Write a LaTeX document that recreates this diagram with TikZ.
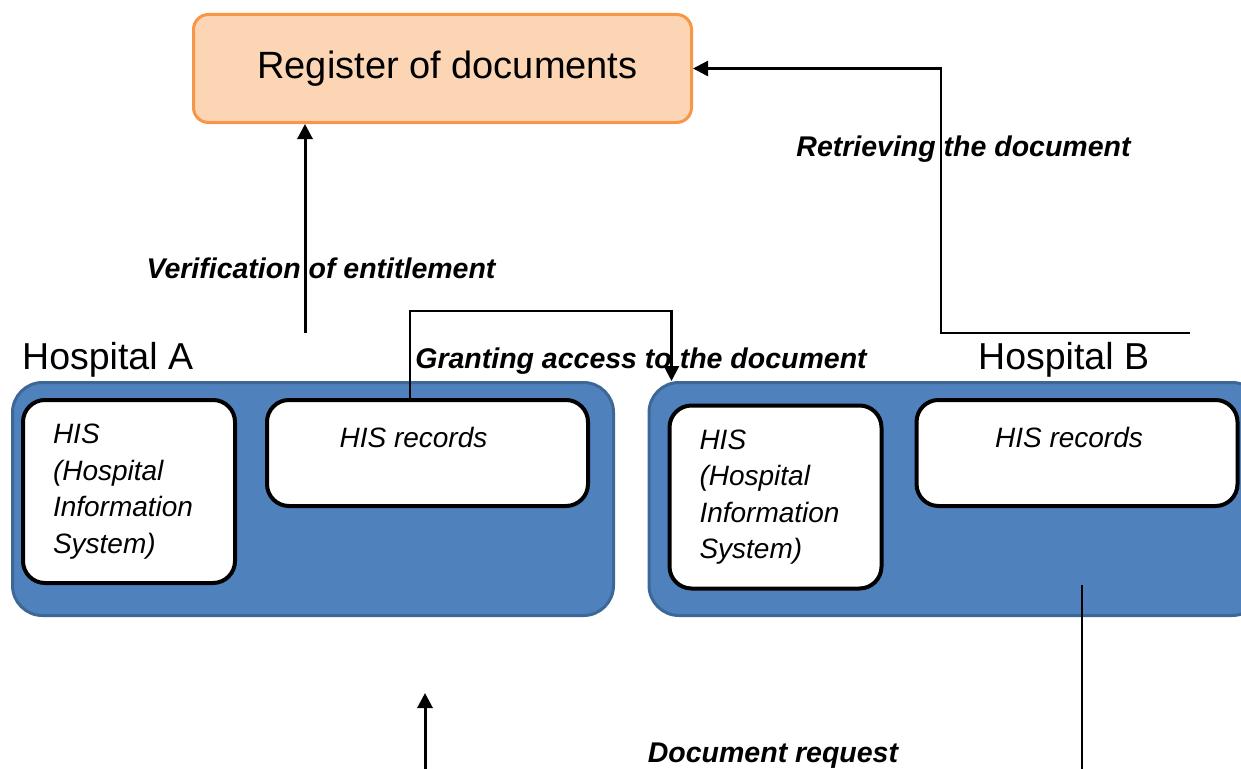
\documentclass[tikz,border=0pt]{standalone}
\usepackage{fontspec}
\setmainfont{Liberation Sans}
\usetikzlibrary{arrows.meta,calc}
\definecolor{hospfill}{HTML}{4F81BD}
\definecolor{hospdraw}{HTML}{3D6796}
\definecolor{regfill}{HTML}{FCD5B4}
\definecolor{regdraw}{HTML}{F79646}
\begin{document}
\begin{tikzpicture}[x=1pt,y=-1pt,
  hosp/.style={draw=hospdraw, fill=hospfill, line width=3pt, rounded corners=30pt,
    minimum width=#1, minimum height=233pt, inner sep=0pt},
  hisbox/.style={draw=black, fill=white, line width=4pt, rounded corners=22pt, inner sep=0pt},
  histext/.style={hisbox, minimum width=212pt, minimum height=183pt, text width=152pt, align=left,
    font=\fontsize{28}{36.5}\selectfont\itshape},
  recbox/.style={hisbox, minimum width=321pt, minimum height=106pt},
  rectext/.style={anchor=base, inner sep=0pt, font=\fontsize{28}{34}\selectfont\itshape},
  regbox/.style={draw=regdraw, fill=regfill, line width=3pt, rounded corners=15pt,
    minimum width=498pt, minimum height=108pt, inner sep=0pt, font=\fontsize{38}{44}\selectfont},
  hosplabel/.style={anchor=base west, inner sep=0pt, font=\fontsize{37.5}{44}\selectfont},
  flowlabel/.style={anchor=base, inner sep=0pt, font=\fontsize{28.5}{34}\selectfont\bfseries\itshape},
  conn/.style={draw=black, line width=2.5pt, -{Triangle[length=15pt,width=15pt]}},
  plain/.style={draw=black, line width=2.5pt}
]
\useasboundingbox (0,0) rectangle (1241,768);
\clip (0,0) rectangle (1241,768);

% register
\node[regbox] (reg) at (442.5,68.5) {\hspace*{10pt}Register of documents};

% hospitals
\node[hosp=601pt] (blueA) at (313,499) {};
\node[hosp=613pt] (blueB) at (955.5,499) {};

\node[hisbox, histext] (hisA) at (129,491.5) {HIS\\(Hospital\\Information\\System)};
\node[recbox] (recA) at (427.5,453) {};
\node[rectext] (recAt) at ($(recA.north)+(-14,49)$) {HIS records};

\node[hisbox, histext] (hisB) at (775.5,497) {HIS\\(Hospital\\Information\\System)};
\node[recbox] (recB) at (1077,453) {};
\node[rectext] (recBt) at ($(recB.north)+(-8,49)$) {HIS records};

\node[hosplabel] (labA) at (22,369) {Hospital A};
\node[hosplabel] (labB) at (978,369) {Hospital B};

% flow labels
\node[flowlabel] (verif) at (321,278) {Verification of entitlement};
\node[flowlabel] (retr) at (963.5,156) {Retrieving the document};
\node[flowlabel] (grant) at (641,368) {Granting access to the document};
\node[flowlabel] (req) at (773,762) {Document request};

% connectors
\coordinate (vStart) at (305,333);
\draw[conn, line width=3pt] (vStart) -- (vStart |- reg.south);

\coordinate (rStart) at (1190,333);
\draw[conn] (rStart) -- (941,333) |- (reg.east);

\coordinate (gStart) at ($(recA.north west)+(145,0)$);
\coordinate (gEnd) at ($(blueB.north west)+(24,0)$);
\draw[conn] (gStart) -- ++(0,-87) -| (gEnd);

\coordinate (dStart) at (425,772);
\coordinate (dEnd) at (425,693);
\draw[conn, line width=3pt] (dStart) -- (dEnd);

\coordinate (bStart) at (1082,585);
\coordinate (bEnd) at (1082,772);
\draw[plain] (bStart) -- (bEnd);
\end{tikzpicture}
\end{document}
